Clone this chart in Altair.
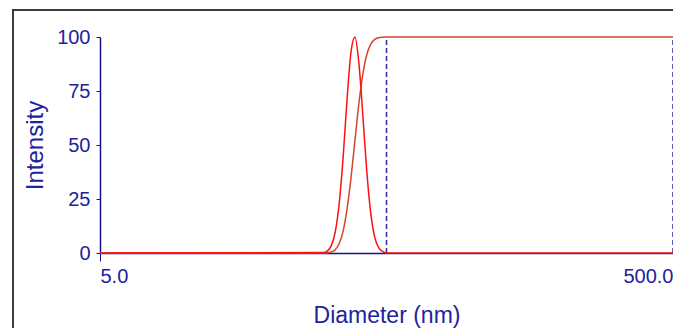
import altair as alt
import pandas as pd

# Size distribution (intensity)
diam = [5.0, 30.08, 31.06, 32.06, 33.10, 34.17, 35.27, 36.41, 37.59, 38.81,
        40.04, 41.33, 42.66, 44.04, 45.46, 46.93, 48.44, 50.0, 500.0]
dist = [0, 0.2, 0.9, 3.3, 9.6, 22.7, 44, 71, 93, 100,
        88, 64, 38, 18.6, 7.5, 2.5, 0.7, 0, 0]
cumul = [0, 0, 0.1, 0.45, 1.5, 4.3, 10.0, 20.3, 34.8, 52.2,
         69.1, 82.7, 91.8, 96.7, 98.9, 99.7, 99.9, 100, 100]

marker_x = [50.0, 500.0]
marker_lo = [0, 0]
marker_hi = [100, 100]

x_ticks = [5.0, 500.0]
y_ticks = [0, 25, 50, 75, 100]

BLUE = "#22229e"
AXIS = "#14148a"
FONT = "Liberation Sans"

rows = []
for d, a, c in zip(diam, dist, cumul):
    rows.append({"d": d, "v": c, "s": "cumulative"})
    rows.append({"d": d, "v": a, "s": "distribution"})
df = pd.DataFrame(rows)

xscale = alt.Scale(type="log", domain=[5, 500], nice=False)
yscale = alt.Scale(domain=[0, 100], nice=False)

xaxis = alt.Axis(values=x_ticks, format=".1f", title="Diameter (nm)",
                 grid=False, tickSize=8, labelPadding=5, labelFlush=True,
                 labelFontSize=20, titleFontSize=23, titlePadding=18,
                 labelColor=BLUE, titleColor=BLUE, domainColor=AXIS,
                 tickColor=AXIS, labelFont=FONT, titleFont=FONT,
                 titleFontWeight="normal", domainWidth=1.5)
yaxis = alt.Axis(values=y_ticks, title="Intensity", grid=False, tickSize=4,
                 labelPadding=6, labelFontSize=20, titleFontSize=24,
                 titlePadding=9, labelColor=BLUE, titleColor=BLUE,
                 domainColor=AXIS, tickColor=AXIS, labelFont=FONT,
                 titleFont=FONT, titleFontWeight="normal", domainWidth=1.5)

lines = alt.Chart(df).mark_line(strokeWidth=1.5, interpolate="monotone").encode(
    x=alt.X("d:Q", scale=xscale, axis=xaxis),
    y=alt.Y("v:Q", scale=yscale, axis=yaxis),
    color=alt.Color("s:N", scale=alt.Scale(domain=["cumulative", "distribution"],
                                          range=["#d2452f", "#ff1010"]),
                    legend=None),
    detail="s:N",
)

mdf = pd.DataFrame({"x": marker_x, "lo": marker_lo, "hi": marker_hi})
rules = alt.Chart(mdf).mark_rule(color="#2a2a9a", strokeDash=[5, 3],
                                  strokeWidth=1.5).encode(
    x=alt.X("x:Q", scale=xscale),
    y=alt.Y("lo:Q", scale=yscale),
    y2="hi:Q",
)

frame = alt.Chart(pd.DataFrame({"a": [0]})).mark_rect(
    filled=False, stroke="#3c3c3c", strokeWidth=2).encode(
    x=alt.value(-87), x2=alt.value(720), y=alt.value(-27), y2=alt.value(420))

chart = alt.layer(frame, rules, lines).properties(
    width=573, height=216,
    autosize=alt.AutoSizeParams(type="none"),
    padding={"left": 92, "top": 29, "right": 0, "bottom": 82},
    background="white",
).configure_view(stroke=None)

chart.save("out.html", embed_options={"renderer": "svg", "actions": False})
